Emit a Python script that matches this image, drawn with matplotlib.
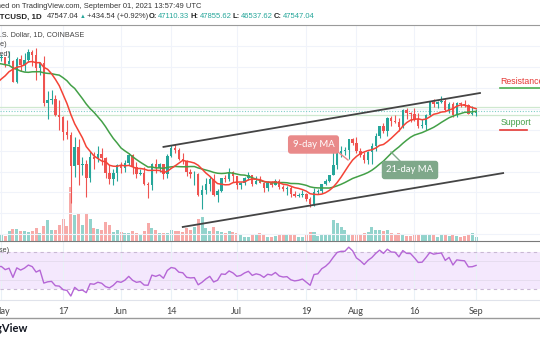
import pandas as pd
import numpy as np
import matplotlib
matplotlib.use("Agg")
import matplotlib.pyplot as plt
import matplotlib.dates as mdates
from matplotlib.lines import Line2D
from matplotlib import font_manager

plt.rcParams['font.family'] = ['Lato', 'DejaVu Sans']

# ---- data (BTCUSD daily, Coinbase) ----
warmup_close = [59000, 59000, 57100, 58200, 59100, 58000, 56000, 58100, 58100, 59800,
                59990, 59860, 63580, 62960, 63200, 61400, 60000, 56150, 55660, 56470,
                53800, 51700, 51150, 50100, 49000, 54000, 55030, 54850, 53560, 57700]  # Apr 1-30

close = [57800, 56580, 57170, 53200, 57440, 56400, 57350, 58900, 58250, 55850,
         56700, 49150, 49700, 49900, 46760, 46450, 43550, 42900, 37000, 40600,
         37300, 37500, 34700, 38800, 38350, 39300, 38500, 35700, 34600, 35650, 37300,
         36700, 37570, 39200, 36850, 35520, 35800, 33550, 33400, 37400, 36700,
         37340, 35550, 39020, 40530, 40150, 38350, 38090, 35820, 35500, 35600,
         31600, 32500, 33700, 34660, 31600, 32230, 34700, 34500, 35900, 35050,
         33500, 33800, 34700, 35300, 33700, 34220, 33860, 32870, 33800, 33500,
         34260, 33090, 32730, 32820, 31780, 31400, 31530, 31790, 30820, 29790,
         32110, 32290, 33590, 34280, 35390, 37300, 39450, 40000, 40020, 42200, 41460,
         39850, 39150, 38200, 39720, 40880, 42830, 44620, 43830, 46300, 45600,
         45550, 44430, 47830, 47100, 47050, 45990, 44700, 44800, 46720, 49330,
         48900, 49300, 49500, 47700, 48990, 46850, 49070, 48900, 48800, 47050, 47110,
         47547.04]

high = [58450, 57900, 58950, 57230, 57900, 58350, 58650, 59500, 59300, 59600,
        57000, 58000, 51350, 51550, 50650, 49750, 46600, 45800, 43550, 42550,
        42200, 38800, 38250, 39900, 39800, 40850, 40400, 38850, 37250, 36450, 37500,
        37900, 38250, 39450, 39300, 37900, 36450, 36800, 34050, 37550, 38400,
        37700, 37450, 39350, 41000, 41300, 40500, 39550, 38200, 36450, 36100,
        35750, 33350, 34850, 35200, 35500, 32700, 34750, 35300, 36650, 36050,
        35050, 33950, 34950, 35950, 35300, 35050, 35100, 33900, 34100, 34250,
        34600, 34650, 33350, 33150, 33150, 32250, 31950, 32400, 31900, 31050,
        32850, 32600, 33650, 34500, 35400, 40500, 39550, 40900, 40650, 42300, 42400,
        42600, 40450, 39750, 39950, 41400, 43400, 44750, 45350, 46450, 46700,
        46800, 46200, 47900, 48150, 47400, 48050, 47150, 46000, 47050, 49400,
        49800, 49500, 50500, 49850, 49300, 49350, 49200, 49300, 49650, 48900, 48450,
        47855.62]

low = [57050, 56050, 56480, 53050, 52900, 55250, 55300, 56900, 56250, 53400,
       54400, 48600, 46000, 48850, 46650, 43850, 42050, 42250, 30000, 35000,
       33500, 35250, 31100, 34050, 36450, 37800, 37200, 34700, 33650, 33450, 34200,
       35700, 35950, 37200, 35600, 34800, 35250, 33350, 31000, 32400, 35800,
       35950, 34650, 34800, 38750, 39550, 38150, 37400, 35150, 34850, 33400,
       31300, 28800, 31700, 32350, 31300, 30200, 32000, 33900, 34250, 34000,
       32700, 32700, 33350, 34450, 33200, 33550, 33800, 32150, 32300, 33000,
       33350, 32700, 32300, 31600, 31200, 31050, 31200, 31150, 30450, 29300,
       29500, 31700, 31950, 33400, 33900, 35300, 36400, 38800, 39200, 38300, 41000,
       39450, 38700, 37600, 37500, 37350, 39900, 42450, 43300, 42850, 44750,
       45350, 43800, 44250, 45950, 45550, 45650, 44400, 44250, 43950, 46650,
       48300, 48150, 49050, 47600, 47150, 46350, 46400, 48400, 48300, 46900, 46750,
       46537.62]

volume = [7, 5, 10, 12, 12, 10, 10, 9, 10, 13, 8, 15, 21, 11, 11, 16, 22, 15, 54, 26,
          28, 16, 27, 22, 13, 12, 11, 19, 16, 9, 11,
          9, 8, 8, 10, 8, 6, 10, 18, 13, 11, 8, 8, 8, 11, 10, 10,
          9, 13, 11, 14, 22, 24, 13, 10, 14, 10, 9, 8, 10, 9,
          8, 7, 4, 4, 6, 6, 8, 6, 4, 4, 5, 6, 6, 6, 6, 6, 4, 4, 6, 9,
          9, 5, 6, 6, 6, 21, 18, 14, 11, 7, 7,
          7, 7, 8, 9, 14, 11, 11, 10, 11, 8, 7, 8, 7, 5, 5, 6, 7, 6, 7, 7,
          6, 4, 7, 7, 5, 7, 5, 4, 5, 7, 8, 4]  # thousand BTC (approx.)

# trend channel drawn on the chart
upper_dates = ["2021-06-12", "2021-09-02"]
upper_prices = [40700, 51000]
lower_dates = ["2021-06-17", "2021-09-08"]
lower_prices = [25400, 35700]
level_prices = [48300, 46800]   # horizontal S/R guides

tick_dates = ["2021-05-01", "2021-05-17", "2021-06-01", "2021-06-14", "2021-07-01",
              "2021-07-19", "2021-08-01", "2021-08-16", "2021-09-01"]
tick_labels = ["May", "17", "Jun", "14", "Jul", "19", "Aug", "16", "Sep"]

# ---- frame ----
all_dates = pd.date_range("2021-04-01", "2021-09-01")
dates = pd.date_range("2021-05-01", "2021-09-01")
all_close = pd.Series(warmup_close + close, index=all_dates)
opens = all_close.shift(1).loc[dates].values
ma9 = all_close.rolling(9).mean()
ma21 = all_close.rolling(21).mean()

delta = all_close.diff()
gain = delta.clip(lower=0).ewm(alpha=1/14, adjust=False).mean()
loss = (-delta.clip(upper=0)).ewm(alpha=1/14, adjust=False).mean()
rsi = 100 - 100 / (1 + gain / loss)

UP, DOWN = '#26a69a', '#ef5350'
up = np.array(close) >= opens
cols = np.where(up, UP, DOWN)
vcols = np.where(up, '#92d3cc', '#f7aaa8')

# narrow face for the squeezed header texts
avail = {f.name for f in font_manager.fontManager.ttflist}
if 'Liberation Sans Narrow' in avail:
    NF, k = ['Liberation Sans Narrow', 'DejaVu Sans'], 1.2
else:
    NF, k = ['Liberation Sans', 'DejaVu Sans'], 1.0

W, H = 540, 340
def fx(x): return x / W
def fy(y): return 1 - y / H

fig = plt.figure(figsize=(5.4, 3.4), dpi=100)
ax = fig.add_axes([0, fy(241), 1, 216 / H])
axv = ax.twinx()
axr = fig.add_axes([0, fy(300), 1, 58 / H])

x = mdates.date2num(dates)
jun1 = mdates.date2num(pd.Timestamp("2021-06-01"))
xlim = (jun1 - 31.35, jun1 + 108.55)

# volume
axv.bar(x, volume, width=0.78, color=vcols, linewidth=0)
axv.set_ylim(0, 216)
axv.axis('off')
ax.set_zorder(axv.get_zorder() + 1)
ax.patch.set_visible(False)

# candles
ax.vlines(x, low, high, colors=cols, linewidth=0.8, zorder=3)
body_lo = np.minimum(opens, close)
body_h = np.maximum(np.abs(np.array(close) - opens), 60)
ax.bar(x, body_h, bottom=body_lo, width=0.64, color=cols, linewidth=0, zorder=4)

xa = mdates.date2num(all_dates)
ax.plot(xa, ma21.values, color='#43a047', lw=1.1, zorder=5)
ax.plot(xa, ma9.values, color='#f44336', lw=1.1, zorder=5)

ax.plot(mdates.date2num(pd.to_datetime(upper_dates)), upper_prices, color='#444444', lw=1.3, zorder=6)
ax.plot(mdates.date2num(pd.to_datetime(lower_dates)), lower_prices, color='#444444', lw=1.3, zorder=6)
for p in level_prices:
    ax.axhline(p, color='#cfe8cf', lw=0.9, zorder=2)
ax.axhline(close[-1], color='#7fcfc6', lw=0.8, ls=(0, (1, 1.5)), zorder=2)

ax.set_xlim(*xlim)
ax.set_ylim(22717, 63973)
ax.set_yticks(np.arange(24000, 64001, 4000))
ax.set_xticks(mdates.date2num(pd.to_datetime(tick_dates)))
ax.grid(True, color='#f0f3fa', lw=0.8)
ax.set_axisbelow(True)
ax.tick_params(length=0, labelbottom=False, labelleft=False)
for s in ['left', 'right']:
    ax.spines[s].set_visible(False)
ax.spines['top'].set_color('#9a9a9a')
ax.spines['bottom'].set_color('#7a7a7a')

# RSI pane
axr.axhspan(30, 70, color='#f4e8fd', lw=0)
axr.axhline(70, color='#c9b8d4', lw=0.8, ls=(0, (3, 3)))
axr.axhline(30, color='#c9b8d4', lw=0.8, ls=(0, (3, 3)))
for g in [40, 60]:
    axr.axhline(g, color='#e6dcef', lw=0.7)
axr.plot(xa, rsi.values, color='#b566d6', lw=1.0)
axr.set_xlim(*xlim)
axr.set_ylim(18.6, 80.3)
axr.set_yticks([])
axr.set_xticks(mdates.date2num(pd.to_datetime(tick_dates)))
axr.set_xticklabels(tick_labels)
axr.grid(True, axis='x', color='#eaf1f7', lw=0.8)
axr.tick_params(length=0, labelsize=6.5, labelcolor='#444444', pad=5)
for s in ['left', 'right', 'top']:
    axr.spines[s].set_visible(False)
axr.spines['bottom'].set_color('#e0e3eb')
fig.add_artist(Line2D([0, 1], [fy(317.5), fy(317.5)], color='#9a9a9a', lw=1))

# header texts
fig.text(fx(201), fy(7), "Published on TradingView.com, September 01, 2021 13:57:49 UTC",
         ha='right', va='center', fontsize=5.4 * k, color='#333333', family=NF)
y2 = fy(17)
renderer = fig.canvas.get_renderer()
t = fig.text(fx(42), y2, "BTCUSD, 1D", ha='right', va='center', fontsize=5.7 * k,
             color='#222222', weight='bold', family=NF)
right = 42
pieces = [("47547.04", 47, '#333333', 'normal'), ("\u25b2", 72, UP, 'normal'),
          ("+434.54 (+0.92%)", 79, '#333333', 'normal'),
          ("O:", 141, '#222222', 'bold'), ("47110.33", 148, UP, 'normal'),
          ("H:", 175, '#222222', 'bold'), ("47855.62", 182, UP, 'normal'),
          ("L:", 210, '#222222', 'bold'), ("46537.62", 216, UP, 'normal'),
          ("C:", 266, '#222222', 'bold'), ("47547.04", 273, UP, 'normal')]
for txt, xr, c, wgt in pieces:
    xp = max(xr, right + 1)
    fs = 4.2 if txt == "\u25b2" else 5.5 * k
    t = fig.text(fx(xp), y2, txt, ha='left', va='center', fontsize=fs, color=c,
                 weight=wgt, family=NF)
    right = t.get_window_extent(renderer).x1

fig.text(fx(84), fy(35), "Bitcoin / U.S. Dollar, 1D, COINBASE", ha='right', va='center',
         fontsize=5.2 * k, color='#444444', family=NF)
fig.text(fx(7), fy(45), "MA (9, close)", ha='right', va='center', fontsize=5.2 * k,
         color='#444444', family=NF)
fig.text(fx(10), fy(55), "Vol (20, volume based)", ha='right', va='center', fontsize=5.2 * k,
         color='#444444', family=NF)
fig.text(fx(9), fy(251), "RSI (14, close)", ha='right', va='center', fontsize=5.2 * k,
         color='#444444', family=NF)
fig.text(fx(28), fy(329), "TradingView", ha='right', va='center', fontsize=8, color='#131722',
         weight='bold')

# callouts
fig.add_artist(Line2D([fx(338), fx(348)], [fy(152), fy(160)], color='#e98a8a', lw=1))
fig.text(fx(313.5), fy(144.5), "9-day MA", ha='center', va='center', fontsize=6.8, color='white',
         bbox=dict(boxstyle='round,pad=0.5,rounding_size=0.3', fc='#e98a8a', ec='none'))
fig.add_artist(Line2D([fx(391), fx(402)], [fy(152), fy(163)], color='#7fa88a', lw=1))
fig.text(fx(410), fy(170), "21-day MA", ha='center', va='center', fontsize=6.8, color='white',
         bbox=dict(boxstyle='round,pad=0.5,rounding_size=0.3', fc='#7fa88a', ec='none'))

fig.text(fx(500), fy(82), "Resistance", ha='left', va='center', fontsize=6.3 * k,
         color='#e53935', family=NF)
fig.add_artist(Line2D([fx(500), fx(540)], [fy(87.5), fy(87.5)], color='#4caf50', lw=1.2))
fig.text(fx(501), fy(122), "Support", ha='left', va='center', fontsize=6.3 * k,
         color='#43a047', family=NF)
fig.add_artist(Line2D([fx(500), fx(527)], [fy(129.5), fy(129.5)], color='#e53935', lw=1.2))

fig.savefig("out.png", dpi=100)
